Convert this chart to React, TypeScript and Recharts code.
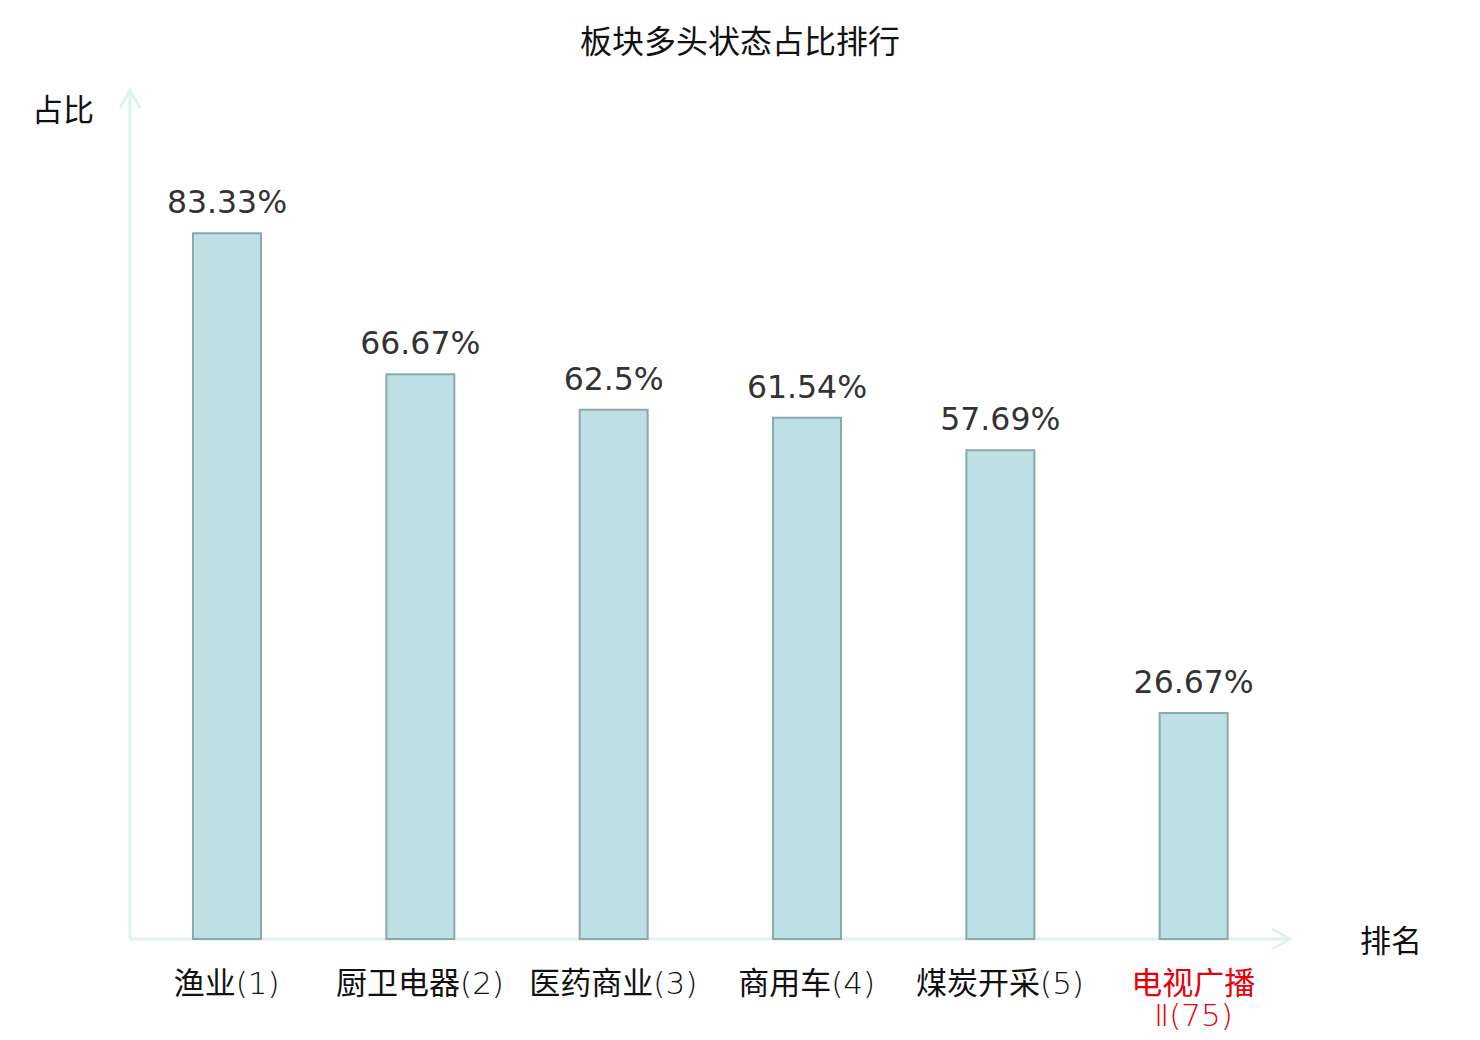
import { BarChart, Bar, XAxis, YAxis, LabelList } from "recharts";

const sectors = ["渔业(1)", "厨卫电器(2)", "医药商业(3)", "商用车(4)", "煤炭开采(5)", "电视广播Ⅱ(75)"];
const ratios = [83.33, 66.67, 62.5, 61.54, 57.69, 26.67];
const highlighted = [false, false, false, false, false, true];

const data = sectors.map((name, i) => ({ name, ratio: ratios[i], hl: highlighted[i] }));

const FONT = "'DejaVu Sans', 'Noto Sans CJK SC', sans-serif";
const CJK = "'Noto Sans CJK SC', sans-serif";
const THIN = "'DejaVu Sans', sans-serif";
const AXIS = "#dff2ef";

// plot area edges (same as chart margins)
const LEFT = 130;
const TOP = 92;
const W = 1480;
const H = 1040;
const RIGHT = 190;
const BOTTOM = 71; // + 30 for the x axis = plot bottom at 939

// han chars in regular CJK font, the rest (brackets, digits) thin
function runs(s: string) {
  return s.match(/[\u4e00-\u9fff]+|[^\u4e00-\u9fff]+/g) || [];
}

function SectorTick(props: any) {
  const { x, y, payload, index } = props;
  const text: string = payload.value;
  const red = highlighted[index];
  const color = red ? "#e8000b" : "#111";
  // long names wrap after the fourth char
  const lines = text.length > 8 ? [text.slice(0, 4), text.slice(4)] : [text];
  return (
    <g>
      {lines.map((l, i) => (
        <text
          key={i}
          x={x}
          y={y + 53 + i * 32}
          textAnchor="middle"
          fill={color}
          fontSize={31}
        >
          {runs(l).map((r, j) =>
            /[\u4e00-\u9fff]/.test(r) ? (
              <tspan key={j} fontFamily={CJK}>
                {r}
              </tspan>
            ) : (
              <tspan key={j} fontFamily={THIN} fontWeight={200}>
                {r}
              </tspan>
            )
          )}
        </text>
      ))}
    </g>
  );
}

function ValueLabel(props: any) {
  const { x, y, width, value } = props;
  return (
    <text
      x={x + width / 2}
      y={y - 20}
      textAnchor="middle"
      fill="#333"
      fontSize={31.5}
      fontFamily={FONT}
    >
      {value}%
    </text>
  );
}

export default function App() {
  const axisRight = W - RIGHT;
  const axisBottom = H - BOTTOM - 30;
  return (
    <div style={{ position: "absolute", left: 0, top: 0, background: "#fff" }}>
      <BarChart
        width={W}
        height={H}
        data={data}
        margin={{ top: TOP, right: RIGHT, bottom: BOTTOM, left: LEFT }}
      >
        <XAxis
          dataKey="name"
          axisLine={false}
          tickLine={false}
          tickSize={0}
          interval={0}
          tick={<SectorTick />}
        />
        <YAxis hide domain={[0, 100]} />
        <Bar
          dataKey="ratio"
          barSize={68}
          fill="#bce0e3"
          stroke="#8ca9aa"
          strokeWidth={2}
          isAnimationActive={false}
        >
          <LabelList dataKey="ratio" content={<ValueLabel />} />
        </Bar>
        <g stroke={AXIS} strokeWidth={3} fill="none">
          <line x1={LEFT} y1={axisBottom} x2={LEFT} y2={TOP - 2} />
          <polyline points={`${LEFT - 10},${TOP + 16} ${LEFT},${TOP - 2} ${LEFT + 10},${TOP + 16}`} />
          <line x1={LEFT} y1={axisBottom} x2={axisRight} y2={axisBottom} />
          <polyline
            points={`${axisRight - 18},${axisBottom - 10} ${axisRight},${axisBottom} ${axisRight - 18},${axisBottom + 10}`}
          />
        </g>
        <text x={740} y={53} textAnchor="middle" fontSize={32} fontFamily={CJK} fill="#111">
          板块多头状态占比排行
        </text>
        <text x={63} y={121} textAnchor="middle" fontSize={31} fontFamily={CJK} fill="#111">
          占比
        </text>
        <text x={1391} y={952} textAnchor="middle" fontSize={31} fontFamily={CJK} fill="#111">
          排名
        </text>
      </BarChart>
    </div>
  );
}
